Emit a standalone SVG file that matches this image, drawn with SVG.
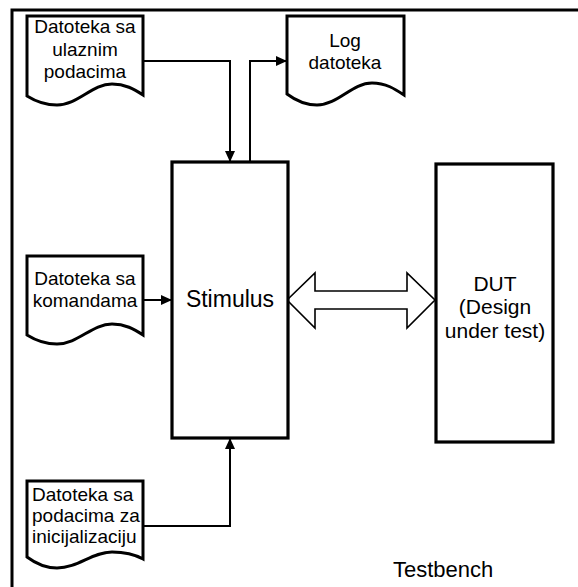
<svg xmlns="http://www.w3.org/2000/svg" width="578" height="587" viewBox="0 0 578 587">
<style>
text{font-family:"Liberation Sans",Arial,sans-serif;fill:#000}
.doc{fill:#fff;stroke:#000;stroke-width:3;stroke-linejoin:miter}
.box{fill:#fff;stroke:#000;stroke-width:3.2}
.conn{fill:none;stroke:#000;stroke-width:2}
.t19{font-size:19px;text-anchor:middle}
</style>
<defs>
<marker id="ah" viewBox="0 0 11 10" refX="11" refY="5" markerWidth="11" markerHeight="10" markerUnits="userSpaceOnUse" orient="auto">
<path d="M0,0 L11,5 L0,10 Z" fill="#000"/>
</marker>
</defs>
<rect x="0" y="0" width="578" height="587" fill="#fff"/>
<path id="frame" d="M12,592 V10 H592" fill="none" stroke="#000" stroke-width="3"/>

<g id="connectors">
<path class="conn" d="M143,61 H230 V162" marker-end="url(#ah)"/>
<path class="conn" d="M250,162 V61 H287" marker-end="url(#ah)"/>
<path class="conn" d="M143,300 H172" marker-end="url(#ah)"/>
<path class="conn" d="M143,526 H230 V438" marker-end="url(#ah)"/>
<polygon points="287,300 315,273 315,291 407,291 407,273 435,300 407,328 407,309 315,309 315,328" fill="#fff" stroke="#000" stroke-width="1.6" stroke-linejoin="miter"/>
</g>

<g id="doc-ulazni">
<path class="doc" d="M27,16 H143 V95 C134,89 125,84 112,84 C92,84 78,105 57,105 C45,105 35,101 27,96 Z"/>
<text class="t19" x="85" y="33">Datoteka sa</text>
<text class="t19" x="85" y="56">ulaznim</text>
<text class="t19" x="85" y="78">podacima</text>
</g>

<g id="doc-log">
<path class="doc" d="M287,16 H404 V95 C395,89 386,83 372,83 C352,83 338,105 317,105 C305,105 295,100 287,94 Z"/>
<text class="t19" x="345" y="47">Log</text>
<text class="t19" x="345" y="69">datoteka</text>
</g>

<g id="doc-komande">
<path class="doc" d="M27,256 H143 V335 C134,329 125,324 112,324 C92,324 78,344 57,344 C45,344 35,340 27,335 Z"/>
<text class="t19" x="85" y="285">Datoteka sa</text>
<text class="t19" x="85" y="307">komandama</text>
</g>

<g id="doc-init">
<path class="doc" d="M27,481 H143 V559 C134,554 125,552 112,552 C92,552 78,568 57,568 C45,568 35,563 27,557 Z"/>
<text x="32" y="501" style="font-size:19px">Datoteka sa</text>
<text x="32" y="522" style="font-size:19px">podacima za</text>
<text x="32" y="543" style="font-size:19px">inicijalizaciju</text>
</g>

<g id="stimulus">
<rect class="box" x="172" y="162" width="116" height="276"/>
<text x="230" y="307" style="font-size:23px;text-anchor:middle">Stimulus</text>
</g>

<g id="dut">
<rect class="box" x="436" y="164" width="117" height="278"/>
<text x="495" y="291" style="font-size:21px;text-anchor:middle">DUT</text>
<text x="495" y="314" style="font-size:21px;text-anchor:middle">(Design</text>
<text x="495" y="338" style="font-size:21px;text-anchor:middle">under test)</text>
</g>

<g id="testbench-label">
<text x="393" y="577" style="font-size:22px">Testbench</text>
</g>
</svg>
